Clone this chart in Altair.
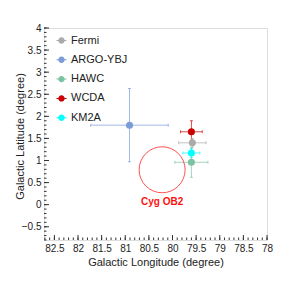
import altair as alt
import pandas as pd

# ---- data ----
names = ["Fermi", "ARGO-YBJ", "HAWC", "WCDA", "KM2A"]
glon = [79.58, 80.91, 79.60, 79.60, 79.60]
glat = [1.40, 1.80, 0.96, 1.65, 1.17]
glon_err = [0.29, 0.82, 0.35, 0.23, 0.18]
glat_err = [0.10, 0.83, 0.34, 0.25, 0.10]
point_colors = ["#aaaaaa", "#7b9bd9", "#7cc3a4", "#cc0000", "#00ffff"]

cyg_l = [80.22]
cyg_b = [0.79]
cyg_label = ["Cyg OB2"]
cyg_label_b = [0.06]

x_ticks = [82.5, 82, 81.5, 81, 80.5, 80, 79.5, 79, 78.5, 78]
y_ticks = [-0.5, 0, 0.5, 1, 1.5, 2, 2.5, 3, 3.5, 4]
x_minor = [round(78 + 0.1 * i, 1) for i in range(48)]
y_minor = [round(-0.8 + 0.1 * i, 1) for i in range(49)]

W, H = 223, 212
FONT = "Liberation Sans"
LBL = "format(datum.value, '.1~f')"

df = pd.DataFrame({
    "name": names,
    "l": glon,
    "b": glat,
    "l_lo": [a - e for a, e in zip(glon, glon_err)],
    "l_hi": [a + e for a, e in zip(glon, glon_err)],
    "b_lo": [a - e for a, e in zip(glat, glat_err)],
    "b_hi": [a + e for a, e in zip(glat, glat_err)],
})

xs = alt.Scale(domain=[82.72, 78], nice=False, zero=False)
ys = alt.Scale(domain=[-0.8, 4], nice=False, zero=False)
cs = alt.Scale(domain=names, range=point_colors)

legend_symbol = ("M -1 -0.1 L 1 -0.1 L 1 0.1 L -1 0.1 Z "
                 "M 0.64 0 A 0.64 0.64 0 1 1 -0.64 0 A 0.64 0.64 0 1 1 0.64 0 Z")
LEG = alt.Legend(title=None, orient="none", legendX=12, legendY=7,
                 symbolType=legend_symbol, symbolSize=100, symbolStrokeWidth=0,
                 symbolOpacity=1,
                 labelFont=FONT, labelFontSize=11, labelColor="#222",
                 labelOffset=4, rowPadding=7.3, padding=0)
col = alt.Color("name:N", scale=cs, legend=LEG)

x_axis = alt.Axis(values=x_ticks, labelExpr=LBL, title="Galactic Longitude (degree)",
                  ticks=False, domain=False, grid=False, labelPadding=3,
                  labelOverlap=False, labelFlush=False,
                  labelFont=FONT, labelFontSize=10, labelColor="#222",
                  titleFont=FONT, titleFontSize=11, titleFontWeight="normal",
                  titleColor="#222", titleX=W / 2, titleY=22, titleBaseline="middle")
y_axis = alt.Axis(values=y_ticks, labelExpr=LBL, title="Galactic Latitude (degree)",
                  ticks=False, domain=False, grid=False, labelPadding=3,
                  labelOverlap=False, labelFlush=False,
                  labelFont=FONT, labelFontSize=10, labelColor="#222",
                  titleFont=FONT, titleFontSize=11, titleFontWeight="normal",
                  titleColor="#222", titleX=-23.5, titleY=H / 2 + 2,
                  titleBaseline="middle", titleAngle=270)

hbar = alt.Chart(df).mark_rule(strokeWidth=1, opacity=0.7).encode(
    x=alt.X("l_lo:Q", scale=xs, axis=x_axis), x2="l_hi:Q",
    y=alt.Y("b:Q", scale=ys, axis=y_axis), color=col)
vbar = alt.Chart(df).mark_rule(strokeWidth=1, opacity=0.7).encode(
    x=alt.X("l:Q", scale=xs, axis=x_axis), y=alt.Y("b_lo:Q", scale=ys, axis=y_axis),
    y2="b_hi:Q", color=col)
cap_lo = alt.Chart(df).mark_tick(orient="vertical", size=3, thickness=1, opacity=0.7).encode(
    x=alt.X("l_lo:Q", scale=xs, axis=x_axis), y=alt.Y("b:Q", scale=ys, axis=y_axis), color=col)
cap_hi = alt.Chart(df).mark_tick(orient="vertical", size=3, thickness=1, opacity=0.7).encode(
    x=alt.X("l_hi:Q", scale=xs, axis=x_axis), y=alt.Y("b:Q", scale=ys, axis=y_axis), color=col)
cap_blo = alt.Chart(df).mark_tick(orient="horizontal", size=3, thickness=1, opacity=0.7).encode(
    x=alt.X("l:Q", scale=xs, axis=x_axis), y=alt.Y("b_lo:Q", scale=ys, axis=y_axis), color=col)
cap_bhi = alt.Chart(df).mark_tick(orient="horizontal", size=3, thickness=1, opacity=0.7).encode(
    x=alt.X("l:Q", scale=xs, axis=x_axis), y=alt.Y("b_hi:Q", scale=ys, axis=y_axis), color=col)

pts = alt.Chart(df).mark_point(filled=True, size=50, opacity=1).encode(
    x=alt.X("l:Q", scale=xs, axis=x_axis), y=alt.Y("b:Q", scale=ys, axis=y_axis), color=col)

cyg_df = pd.DataFrame({"l": cyg_l, "b": cyg_b, "lb": cyg_label_b, "t": cyg_label})
ring = alt.Chart(cyg_df).mark_point(shape="circle", filled=False, size=2116,
                                    stroke="#ff5050", strokeWidth=1, opacity=1).encode(
    x=alt.X("l:Q", scale=xs, axis=x_axis), y=alt.Y("b:Q", scale=ys, axis=y_axis))
ring_txt = alt.Chart(cyg_df).mark_text(color="#ff1010", font=FONT, fontSize=10,
                                       fontWeight="bold", baseline="middle").encode(
    x=alt.X("l:Q", scale=xs, axis=x_axis), y=alt.Y("lb:Q", scale=ys, axis=y_axis), text="t:N")

xmaj = pd.DataFrame({"v": x_ticks})
xmin = pd.DataFrame({"v": x_minor})
ymaj = pd.DataFrame({"v": y_ticks})
ymin = pd.DataFrame({"v": y_minor})

def xt(d, ln):
    return alt.Chart(d).mark_rule(color="#333", strokeWidth=1).encode(
        x=alt.X("v:Q", scale=xs, axis=x_axis), y=alt.value(H), y2=alt.value(H - ln))

def yt(d, ln):
    return alt.Chart(d).mark_rule(color="#333", strokeWidth=1).encode(
        y=alt.Y("v:Q", scale=ys, axis=y_axis), x=alt.value(0), x2=alt.value(ln))

chart = alt.layer(
    hbar, vbar, cap_lo, cap_hi, cap_blo, cap_bhi,
    xt(xmaj, 5), xt(xmin, 2.5), yt(ymaj, 5), yt(ymin, 2.5),
    ring, ring_txt, pts,
).properties(
    width=W, height=H,
    autosize=alt.AutoSizeParams(type="none"),
    padding={"left": 36, "top": 20, "right": 21, "bottom": 35},
).configure_view(stroke="#222", strokeWidth=1).configure_axis(
    labelOverlap=False
).configure(background="white")

chart.save("out.html", embed_options={"renderer": "svg", "actions": False})
